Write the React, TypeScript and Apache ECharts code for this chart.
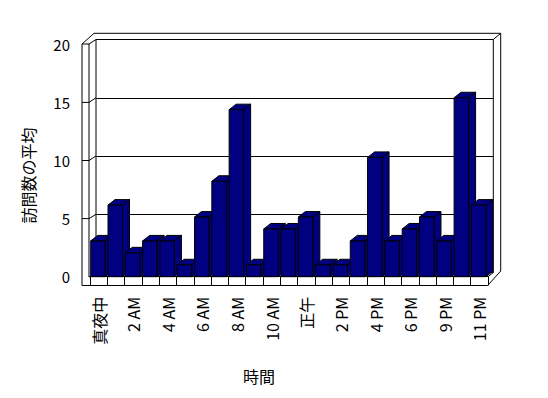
import React, { useEffect, useRef } from 'react';
import * as echarts from 'echarts';

const CATEGORIES = [
  '真夜中', '1 AM', '2 AM', '3 AM', '4 AM', '5 AM', '6 AM', '7 AM', '8 AM', '9 AM', '10 AM', '11 AM',
  '正午', '1 PM', '2 PM', '3 PM', '4 PM', '5 PM', '6 PM', '8 PM', '9 PM', '10 PM', '11 PM',
];
const VISITS = [3, 6, 2, 3, 3, 1, 5, 8, 14, 1, 4, 4, 5, 1, 1, 3, 10, 3, 4, 5, 3, 15, 6];
const Y_MIN = 0;
const Y_MAX = 20;
const Y_STEP = 5;
const WALL_TICKS = [5, 10, 15];
const Y_TITLE = '訪問数の平均';
const X_TITLE = '時間';

const FONT = '"Noto Sans CJK JP", "Noto Sans", sans-serif';
const BAR_FILL = '#000080';

export default function App() {
  const ref = useRef<HTMLDivElement>(null);
  useEffect(() => {
    document.body.style.margin = '0';
    const chart = echarts.init(ref.current!, null, { renderer: 'svg' });

    const dx = 7;
    const dy = -5.5;
    const barW = 14.5;
    const line = (x1: number, y1: number, x2: number, y2: number) => ({
      type: 'line',
      silent: true,
      z: 0,
      shape: { x1, y1, x2, y2 },
      style: { stroke: '#000', lineWidth: 1 },
    });

    const wallLines = WALL_TICKS.map((v) => {
      const yF = 276.7 - v * 11.62;
      const yB = 272.5 - v * 11.65;
      return {
        type: 'polyline',
        silent: true,
        z: 0,
        shape: { points: [[82, yF], [89, yF], [96, yB]] },
        style: { stroke: '#000', lineWidth: 1, fill: 'none' },
      };
    });

    const option: any = {
      animation: false,
      backgroundColor: '#fff',
      textStyle: { fontFamily: FONT },
      grid: [
        { left: 82, top: 44.3, width: 400, height: 232.4, show: false },
        { left: 96, top: 39.5, width: 397.3, height: 233, show: false },
        { left: 90, top: 38.1, width: 398, height: 238.6, show: false },
      ],
      xAxis: [
        { gridIndex: 0, type: 'category', data: CATEGORIES, show: false },
        { gridIndex: 1, type: 'category', data: CATEGORIES, show: false },
        {
          gridIndex: 2,
          type: 'category',
          data: CATEGORIES,
          axisLine: { show: true, lineStyle: { color: '#000', width: 1 } },
          axisTick: { show: true, interval: 0, length: 8.8, inside: false, lineStyle: { color: '#000', width: 1 } },
          axisLabel: {
            show: true,
            rotate: 90,
            interval: 1,
            margin: 20,
            fontSize: 16,
            color: '#000',
            fontFamily: FONT,
          },
          splitLine: { show: false },
        },
      ],
      yAxis: [
        {
          gridIndex: 0,
          type: 'value',
          min: Y_MIN,
          max: Y_MAX,
          interval: Y_STEP,
          axisLine: { show: false },
          axisTick: { show: false },
          splitLine: { show: false },
          axisLabel: { show: true, margin: 12, fontSize: 15, color: '#000', fontFamily: FONT },
        },
        {
          gridIndex: 1,
          type: 'value',
          min: Y_MIN,
          max: Y_MAX,
          interval: Y_STEP,
          axisLine: { show: false },
          axisTick: { show: false },
          axisLabel: { show: false },
          splitLine: { show: true, lineStyle: { color: '#000', width: 1 } },
        },
        {
          gridIndex: 2,
          type: 'value',
          min: Y_MIN,
          max: Y_MAX,
          interval: Y_STEP,
          show: false,
          splitLine: { show: false },
        },
      ],
      graphic: [
        {
          type: 'polyline',
          silent: true,
          z: 0,
          shape: {
            points: [[82, 285.5], [82, 44], [94, 33.3], [500.7, 33.3], [500.7, 271], [487.7, 285.5], [82, 285.5]],
          },
          style: { stroke: '#000', lineWidth: 1, fill: 'none' },
        },
        {
          type: 'rect',
          silent: true,
          z: 0,
          shape: { x: 96, y: 39.5, width: 397.3, height: 233 },
          style: { stroke: '#000', lineWidth: 1, fill: 'none' },
        },
        line(82, 44, 89, 44),
        line(89, 44, 89, 277),
        line(89, 44, 96, 39.5),
        line(493.3, 39.5, 500.7, 33.3),
        line(493.3, 272.5, 488, 276.7),
        line(89, 277, 96, 272.5),
        line(89, 276.7, 90, 276.7),
        ...wallLines,
        {
          type: 'text',
          silent: true,
          x: 27.5,
          y: 175.5,
          rotation: Math.PI / 2,
          style: {
            text: Y_TITLE,
            fontSize: 16,
            fontFamily: FONT,
            fill: '#000',
            align: 'center',
            verticalAlign: 'middle',
          },
        },
        {
          type: 'text',
          silent: true,
          x: 259,
          y: 376,
          style: {
            text: X_TITLE,
            fontSize: 16,
            fontFamily: FONT,
            fill: '#000',
            align: 'center',
            verticalAlign: 'middle',
          },
        },
      ],
      series: [
        {
          type: 'custom',
          xAxisIndex: 2,
          yAxisIndex: 2,
          z: 5,
          data: VISITS.map((v, i) => [i, v]),
          encode: { x: 0, y: 1 },
          renderItem: (params: any, api: any) => {
            const i = api.value(0);
            const v = api.value(1);
            const base = api.coord([i, 0]);
            const top = api.coord([i, v]);
            const band = api.size([1, 0])[0];
            const x0 = base[0] - band / 2 + 0.7;
            const yT = top[1];
            const yB = base[1];
            const st = { fill: BAR_FILL, stroke: '#000', lineWidth: 1 };
            return {
              type: 'group',
              children: [
                {
                  type: 'polygon',
                  shape: { points: [[x0 + barW, yB], [x0 + barW + dx, yB + dy], [x0 + barW + dx, yT + dy], [x0 + barW, yT]] },
                  style: st,
                },
                {
                  type: 'polygon',
                  shape: { points: [[x0, yT], [x0 + dx, yT + dy], [x0 + barW + dx, yT + dy], [x0 + barW, yT]] },
                  style: st,
                },
                {
                  type: 'rect',
                  shape: { x: x0, y: yT, width: barW, height: yB - yT },
                  style: st,
                },
              ],
            };
          },
        },
      ],
    };

    chart.setOption(option);
    return () => chart.dispose();
  }, []);
  return <div ref={ref} style={{ width: 548, height: 398 }} />;
}
